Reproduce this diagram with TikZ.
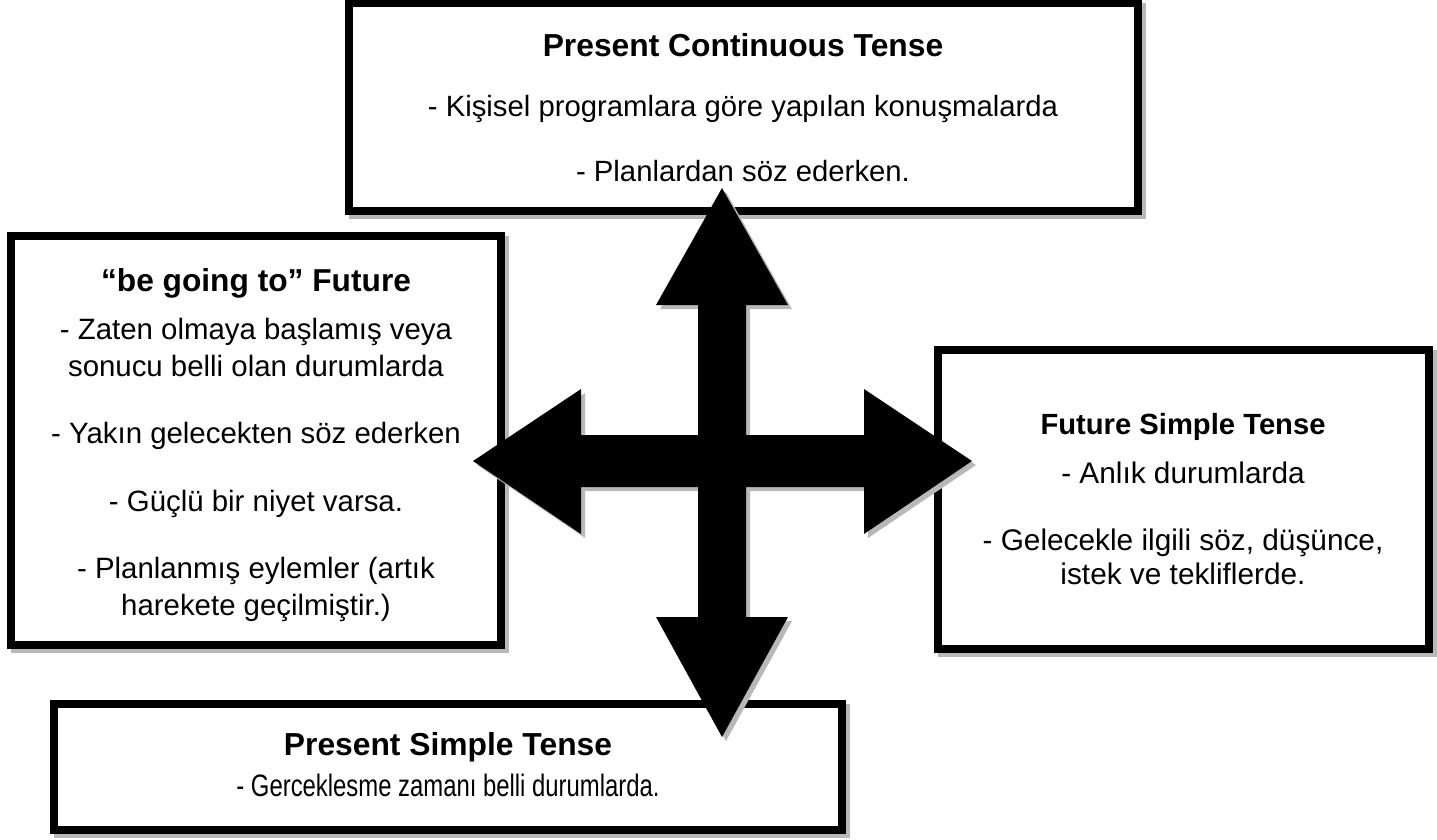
\documentclass[tikz,border=0pt]{standalone}
\usepackage{fontspec}
\setmainfont{Liberation Sans}
\usetikzlibrary{calc}
\pgfdeclarelayer{bg}
\pgfsetlayers{bg,main}
\definecolor{shd}{gray}{0.72}
\begin{document}
\begin{tikzpicture}[x=1pt,y=-1pt,
  tbox/.style={draw=black, fill=white, line width=8pt, inner sep=0pt, rectangle},
  ttl/.style={anchor=base, inner sep=0pt, font=\bfseries\fontsize{#1}{#1}\selectfont},
  txt/.style={anchor=base, inner sep=0pt, font=\fontsize{#1}{#1}\selectfont},
  boxshadow/.style={fill=shd}
]
\useasboundingbox (0,0) rectangle (1437,839);

% boxes
\node[tbox, minimum width=788.5pt, minimum height=208pt] (pc) at (743.25,107) {};
\node[tbox, minimum width=490pt, minimum height=409pt] (bg) at (256,440) {};
\node[tbox, minimum width=490.5pt, minimum height=299.5pt] (fs) at (1183.25,499.25) {};
\node[tbox, minimum width=788.5pt, minimum height=126pt] (ps) at (447.75,767) {};

\begin{pgfonlayer}{bg}
\foreach \b in {pc,bg,fs,ps}
  \fill[boxshadow] ($(\b.south west)+(4,4)$) rectangle ($(\b.north east)+(4,4)$);
\end{pgfonlayer}

% texts: Present Continuous
\node[ttl=31.8] (pct) at (743,56) {Present Continuous Tense};
\node[txt=29.3] (pc1) at (743,116) {- Kişisel programlara göre yapılan konuşmalarda};
\node[txt=29.3] (pc2) at (743,181) {- Planlardan söz ederken.};

% be going to
\node[ttl=31.7] (bgt) at (256,291) {“be going to” Future};
\node[txt=29.4] (bg1) at (256,339) {- Zaten olmaya başlamış veya};
\node[txt=29.4] (bg2) at (256,376) {sonucu belli olan durumlarda};
\node[txt=29.4] (bg3) at (256,443) {- Yakın gelecekten söz ederken};
\node[txt=29.4] (bg4) at (256,511) {- Güçlü bir niyet varsa.};
\node[txt=29.4] (bg5) at (256,578) {- Planlanmış eylemler (artık};
\node[txt=29.4] (bg6) at (256,615) {harekete geçilmiştir.)};

% Future simple
\node[ttl=29.2] (fst) at (1183,434) {Future Simple Tense};
\node[txt=29.8] (fs1) at (1183,483) {- Anlık durumlarda};
\node[txt=29.8] (fs2) at (1183,550) {- Gelecekle ilgili söz, düşünce,};
\node[txt=29.8] (fs3) at (1183,584) {istek ve tekliflerde.};

% Present simple
\node[ttl=31.8] (pst) at (448,755) {Present Simple Tense};
\node[txt=31] (ps1) at (448,796) {\scalebox{0.77}[1]{- Gerceklesme zamanı belli durumlarda.}};

% four-way arrow with shadow
\coordinate (ctr) at (722,461);
\foreach \off/\col in {4/shd,0/black}{
\begin{scope}[shift={($(ctr)+(\off,\off)$)}]
\fill[\col] (0,-273) -- (66,-156) -- (24,-156) -- (24,-26) -- (142,-26) -- (142,-72)
  -- (250,0) -- (142,73) -- (142,26) -- (24,26) -- (24,156) -- (66,156)
  -- (0,276) -- (-66,156) -- (-24,156) -- (-24,26) -- (-141,26) -- (-141,73)
  -- (-249,0) -- (-141,-72) -- (-141,-26) -- (-24,-26) -- (-24,-156) -- (-66,-156) -- cycle;
\end{scope}}
\end{tikzpicture}
\end{document}
